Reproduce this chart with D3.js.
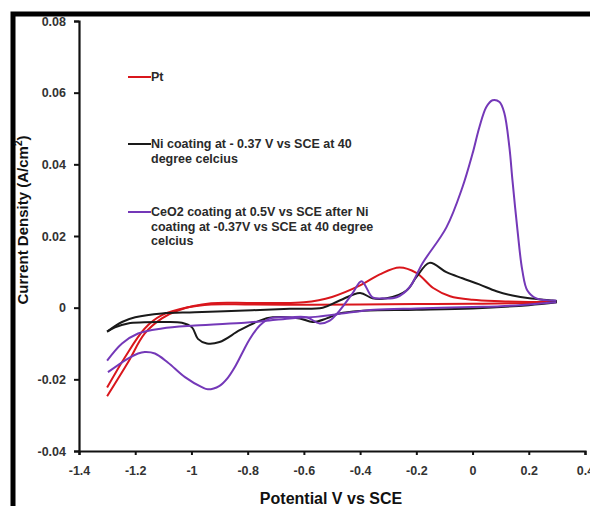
<html>
<head>
	<meta charset="utf-8">
	<script src="https://d3js.org/d3.v7.min.js"></script>
	<style>
		body { margin: 0; background: #fff; }
		text { font-family: Arial, "Liberation Sans", sans-serif; font-weight: bold; }
	</style>
</head>
<body>
	<script>
		var outerWidth = 590;
		var outerHeight = 506;
		var margin = { left: 79, top: 21, right: 5, bottom: 55 };

		var innerWidth  = outerWidth  - margin.left - margin.right;
		var innerHeight = outerHeight - margin.top - margin.bottom;

		// [potential V, current density A/cm2]
		var ptForward = [[-1.3,-0.0247],[-1.226,-0.0153],[-1.166,-0.0072],[-1.105,-0.003],[-1.048,-0.0008],[-0.93,0.0012],[-0.8,0.0013],[-0.7,0.0013],[-0.6,0.0015],[-0.5,0.003],[-0.4,0.0062],[-0.33,0.0093],[-0.26,0.0112],[-0.2,0.0097],[-0.14,0.0055],[-0.08,0.0032],[0.0,0.0022],[0.1,0.0018],[0.2,0.0016],[0.3,0.0016]];
		var ptReverse = [[-1.3,-0.0223],[-1.237,-0.0139],[-1.166,-0.0058],[-1.105,-0.0021],[-1.013,0.0001],[-0.93,0.0009],[-0.8,0.0009],[-0.6,0.0008],[-0.4,0.0009],[-0.2,0.001],[0.0,0.0011],[0.2,0.0013],[0.3,0.0016]];

		var niForward = [[-1.3,-0.0067],[-1.247,-0.004],[-1.2,-0.0027],[-1.105,-0.0016],[-0.988,-0.0013],[-0.81,-0.0008],[-0.65,-0.0003],[-0.533,0.0],[-0.473,0.002],[-0.4,0.0041],[-0.356,0.0026],[-0.306,0.0026],[-0.235,0.0048],[-0.2,0.0085],[-0.153,0.0125],[-0.093,0.0099],[-0.036,0.0082],[0.024,0.0065],[0.085,0.0046],[0.142,0.0034],[0.202,0.0026],[0.284,0.002],[0.3,0.0018]];
		var niReverse = [[-1.3,-0.0067],[-1.272,-0.0055],[-1.226,-0.0044],[-1.105,-0.004],[-1.034,-0.0042],[-0.998,-0.0055],[-0.977,-0.0087],[-0.945,-0.01],[-0.9,-0.0096],[-0.828,-0.0063],[-0.757,-0.0036],[-0.711,-0.0027],[-0.615,-0.003],[-0.569,-0.004],[-0.519,-0.003],[-0.473,-0.0016],[-0.4,-0.0009],[-0.2,-0.0006],[0.0,-0.0002],[0.2,0.0007],[0.3,0.0015]];

		var ceForward = [[-1.297,-0.018],[-1.226,-0.0142],[-1.19,-0.0128],[-1.166,-0.0124],[-1.13,-0.0128],[-1.084,-0.0153],[-1.023,-0.0194],[-0.963,-0.0222],[-0.942,-0.0228],[-0.9,-0.0218],[-0.87,-0.0195],[-0.845,-0.0165],[-0.817,-0.0123],[-0.793,-0.0088],[-0.757,-0.005],[-0.72,-0.003],[-0.65,-0.0027],[-0.59,-0.0027],[-0.544,-0.0044],[-0.508,-0.0036],[-0.473,-0.0008],[-0.427,0.004],[-0.395,0.0074],[-0.356,0.0029],[-0.32,0.0026],[-0.27,0.0029],[-0.224,0.0057],[-0.178,0.0124],[-0.093,0.0224],[-0.036,0.0336],[0.0,0.043],[0.024,0.0503],[0.049,0.056],[0.071,0.0579],[0.096,0.0574],[0.113,0.0543],[0.131,0.0448],[0.142,0.0355],[0.16,0.0215],[0.177,0.0104],[0.195,0.0048],[0.227,0.0026],[0.298,0.002]];
		var ceReverse = [[-1.3,-0.0148],[-1.247,-0.01],[-1.19,-0.0072],[-1.105,-0.0058],[-0.988,-0.005],[-0.81,-0.0042],[-0.75,-0.0038],[-0.65,-0.003],[-0.55,-0.0025],[-0.45,-0.0015],[-0.35,-0.0006],[-0.2,-0.0002],[0.0,0.0002],[0.1,0.0004],[0.2,0.0009],[0.298,0.0015]];

		var seriesNames = ["Pt", "Ni coating at - 0.37 V vs SCE at 40|degree celcius", "CeO2 coating at 0.5V vs SCE after Ni|coating at -0.37V vs SCE at 40 degree|celcius"];
		var seriesColors = ["#d9161c", "#1a1a1a", "#7438b8"];
		var seriesData = [[ptForward, ptReverse], [niForward, niReverse], [ceForward, ceReverse]];

		var xTicks = [-1.4, -1.2, -1, -0.8, -0.6, -0.4, -0.2, 0, 0.2, 0.4];
		var yTicks = [-0.04, -0.02, 0, 0.02, 0.04, 0.06, 0.08];

		var svg = d3.select("body").append("svg")
					.attr("width", outerWidth)
					.attr("height", outerHeight);

		// thick black frame round the figure
		svg.append("rect")
			.attr("x", 13).attr("y", 14)
			.attr("width", 620).attr("height", 540)
			.attr("fill", "none")
			.attr("stroke", "#000")
			.attr("stroke-width", 5);

		var g = svg.append("g")
					.attr("transform", "translate(" + margin.left + "," + margin.top + ")");

		var xScale = d3.scaleLinear().domain([-1.4, 0.4]).range([0, innerWidth]);
		var yScale = d3.scaleLinear().domain([-0.04, 0.08]).range([innerHeight, 0]);

		var xAxis = d3.axisBottom(xScale).tickValues(xTicks).tickSize(4).tickPadding(11)
			.tickFormat(function(d) { return String(+d.toFixed(1)); });
		var yAxis = d3.axisLeft(yScale).tickValues(yTicks).tickSize(5).tickPadding(8)
			.tickFormat(function(d) { return Math.abs(d) < 1e-9 ? "0" : d.toFixed(2); });

		var xAxisG = g.append("g")
					.attr("transform", "translate(0," + innerHeight + ")")
					.call(xAxis);
		var yAxisG = g.append("g").call(yAxis);

		[xAxisG, yAxisG].forEach(function(ax) {
			ax.select(".domain").attr("stroke", "#111").attr("stroke-width", 2.2);
			ax.selectAll(".tick line").attr("stroke", "#111").attr("stroke-width", 2);
			ax.selectAll(".tick text")
				.attr("fill", "#333")
				.style("font-size", "12.5px")
				.style("font-family", "Arial, 'Liberation Sans', sans-serif")
				.style("font-weight", "bold");
		});

		var line = d3.line()
			.x(function(d) { return xScale(d[0]); })
			.y(function(d) { return yScale(d[1]); })
			.curve(d3.curveCatmullRom.alpha(0.5));

		seriesData.forEach(function(branches, i) {
			branches.forEach(function(b) {
				g.append("path")
					.datum(b)
					.attr("d", line)
					.attr("fill", "none")
					.attr("stroke", seriesColors[i])
					.attr("stroke-width", 2);
			});
		});

		// legend
		var legendY = [77, 144, 212];
		seriesNames.forEach(function(name, i) {
			svg.append("line")
				.attr("x1", 128).attr("x2", 151)
				.attr("y1", legendY[i]).attr("y2", legendY[i])
				.attr("stroke", seriesColors[i])
				.attr("stroke-width", 2);
			var t = svg.append("text")
				.attr("x", 151).attr("y", legendY[i] + 4)
				.attr("fill", "#2a2a2a")
				.style("font-size", "12.5px");
			name.split("|").forEach(function(s, k) {
				t.append("tspan").attr("x", 151).attr("dy", k == 0 ? 0 : 14.5).text(s);
			});
		});

		// axis titles
		svg.append("text")
			.attr("x", 331).attr("y", 504)
			.attr("text-anchor", "middle")
			.attr("fill", "#111")
			.style("font-size", "16px")
			.text("Potential V vs SCE");

		var yt = svg.append("text")
			.attr("transform", "translate(28,220) rotate(-90)")
			.attr("text-anchor", "middle")
			.attr("fill", "#111")
			.style("font-size", "15px");
		yt.append("tspan").text("Current Density (A/cm");
		yt.append("tspan").attr("dy", -6).style("font-size", "10px").text("2");
		yt.append("tspan").attr("dy", 6).text(")");
	</script>
</body>
</html>
